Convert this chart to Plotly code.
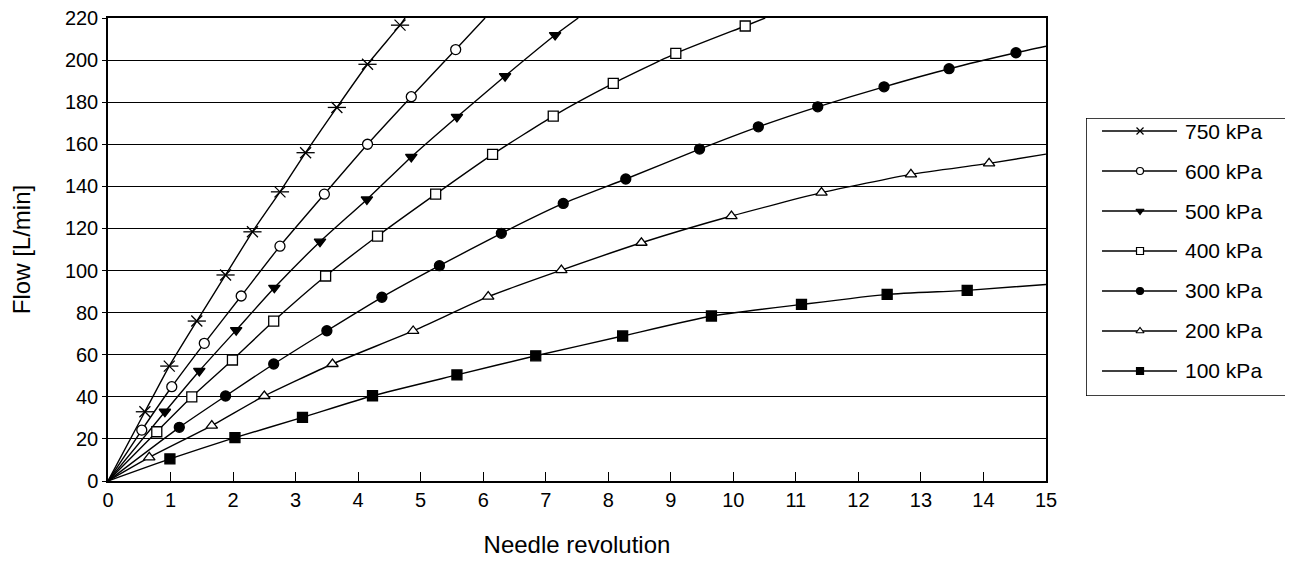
import plotly.graph_objects as go

# needle revolution / flow readings per supply pressure
# first point is the origin, last point is where the curve leaves the frame (no marker there)
x_750 = [0, 0.59, 0.98, 1.42, 1.88, 2.31, 2.75, 3.16, 3.66, 4.15, 4.67, 4.75]
y_750 = [0, 32.9, 54.6, 76.0, 97.9, 118.4, 137.4, 156.0, 177.5, 198.0, 216.6, 220]

x_600 = [0, 0.54, 1.02, 1.54, 2.13, 2.75, 3.46, 4.15, 4.85, 5.56, 6.03]
y_600 = [0, 24.2, 44.8, 65.4, 87.9, 111.6, 136.3, 160.0, 182.6, 205.0, 220]

x_500 = [0, 0.91, 1.46, 2.05, 2.66, 3.39, 4.14, 4.85, 5.58, 6.35, 7.15, 7.52]
y_500 = [0, 32.9, 52.3, 71.7, 91.8, 113.7, 133.8, 154.0, 173.0, 192.4, 211.9, 220]

x_400 = [0, 0.78, 1.34, 1.99, 2.65, 3.48, 4.31, 5.24, 6.15, 7.12, 8.08, 9.08, 10.19, 10.51]
y_400 = [0, 23.4, 40.0, 57.5, 76.0, 97.4, 116.4, 136.3, 155.2, 173.4, 188.9, 203.2, 216.2, 220]

x_300 = [0, 1.14, 1.88, 2.65, 3.50, 4.38, 5.30, 6.29, 7.28, 8.28, 9.46, 10.40, 11.35, 12.41, 13.45, 14.52, 15]
y_300 = [0, 25.5, 40.4, 55.6, 71.4, 87.3, 102.3, 117.7, 131.9, 143.5, 157.7, 168.3, 177.8, 187.3, 195.9, 203.5, 206.6]

x_200 = [0, 0.66, 1.66, 2.50, 3.59, 4.88, 6.08, 7.25, 8.53, 9.97, 11.41, 12.84, 14.09, 15]
y_200 = [0, 11.2, 26.3, 40.4, 55.6, 71.3, 87.6, 100.2, 113.2, 125.9, 137.0, 145.7, 150.9, 155.3]

x_100 = [0, 0.99, 2.03, 3.11, 4.23, 5.58, 6.84, 8.23, 9.65, 11.09, 12.46, 13.74, 15]
y_100 = [0, 10.5, 20.6, 30.2, 40.5, 50.4, 59.5, 68.9, 78.4, 83.9, 88.7, 90.6, 93.4]

labels = ["750 kPa", "600 kPa", "500 kPa", "400 kPa", "300 kPa", "200 kPa", "100 kPa"]

FONT = "Liberation Sans, Arial, sans-serif"

series = [
    (labels[0], x_750, y_750, "x-thin-open", "black"),
    (labels[1], x_600, y_600, "circle", "white"),
    (labels[2], x_500, y_500, "triangle-down", "black"),
    (labels[3], x_400, y_400, "square", "white"),
    (labels[4], x_300, y_300, "circle", "black"),
    (labels[5], x_200, y_200, "triangle-up", "white"),
    (labels[6], x_100, y_100, "square", "black"),
]

fig = go.Figure()

for name, xs, ys, sym, fill in series:
    n = len(xs)
    sz = 11 if sym == "x-thin-open" else 10
    sizes = [0] + [sz] * (n - 2) + [0]
    fig.add_trace(go.Scatter(
        x=xs, y=ys, name=name,
        mode="lines+markers",
        line=dict(color="black", width=1.4, shape="spline", smoothing=0.5),
        marker=dict(symbol=sym, size=sizes, color=fill, opacity=1,
                    line=dict(color="black", width=1.3)),
    ))
    if sym == "x-thin-open":
        # horizontal bar so the 750 kPa marker looks like the star glyph
        fig.add_trace(go.Scatter(
            x=xs[1:-1], y=ys[1:-1], mode="markers",
            marker=dict(symbol="line-ew-open", size=13, color="black",
                        line=dict(color="black", width=1.3)),
        ))

# legend drawn on its own hidden axes (pixel units inside the box),
# so the sample lines can be as long as in the original
BOX_W, BOX_H = 204, 278
for i, (name, xs, ys, sym, fill) in enumerate(series):
    ly = 13 + 40 * i
    fig.add_trace(go.Scatter(
        x=[16, 91], y=[ly, ly], mode="lines", xaxis="x2", yaxis="y2",
        line=dict(color="black", width=1.4),
    ))
    fig.add_trace(go.Scatter(
        x=[54], y=[ly], mode="markers", xaxis="x2", yaxis="y2",
        marker=dict(symbol=sym, size=7, color=fill,
                    line=dict(color="black", width=1.2)),
    ))
    fig.add_annotation(
        x=97, y=ly, xref="x2", yref="y2", text=name, showarrow=False,
        xanchor="left", yanchor="middle",
        font=dict(family=FONT, size=21, color="black"),
    )

fig.add_shape(type="rect", xref="x2", yref="y2", x0=0, x1=BOX_W, y0=0, y1=BOX_H,
              line=dict(color="black", width=1.5))

# page body adds ~8px offset, so margins are shifted accordingly
fig.update_layout(
    width=1293, height=563,
    margin=dict(l=100, r=0, t=10, b=90),
    plot_bgcolor="white", paper_bgcolor="white",
    font=dict(family=FONT, size=20, color="black"),
    showlegend=False,
    xaxis=dict(
        domain=[0, 0.78625],
        range=[0, 15], dtick=1, showgrid=False, zeroline=False, automargin=False,
        ticks="inside", ticklen=9, tickcolor="black",
        showline=True, linecolor="black", linewidth=1.5, mirror=True,
        title=dict(text="Needle revolution", standoff=26,
                   font=dict(family=FONT, size=24, color="black")),
    ),
    yaxis=dict(
        range=[0, 220], dtick=20, showgrid=True, gridcolor="black", gridwidth=1,
        zeroline=False, ticks="outside", ticklen=4, tickcolor="black", automargin=False,
        ticklabeloverflow="allow",
        showline=True, linecolor="black", linewidth=1.5, mirror=True,
        title=dict(text="Flow [L/min]", standoff=28,
                   font=dict(family=FONT, size=24, color="black")),
    ),
    xaxis2=dict(domain=[0.8198, 0.9908], range=[0, BOX_W], anchor="y2",
                visible=False, fixedrange=True),
    yaxis2=dict(domain=[0.1836, 0.784], range=[BOX_H, 0], anchor="x2",
                visible=False, fixedrange=True),
)

fig.write_html("out.html")
